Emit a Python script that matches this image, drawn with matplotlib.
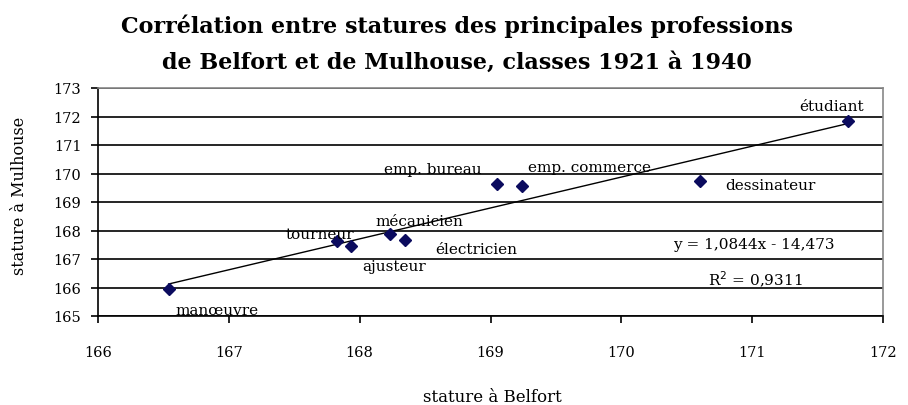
import numpy as np
import matplotlib
matplotlib.use("Agg")
import matplotlib.pyplot as plt

# Data
professions = ["manœuvre", "tourneur", "ajusteur", "mécanicien", "électricien",
               "emp. bureau", "emp. commerce", "dessinateur", "étudiant"]
stature_belfort = [166.54, 167.83, 167.93, 168.23, 168.35, 169.05, 169.24, 170.6, 171.73]
stature_mulhouse = [165.95, 167.63, 167.46, 167.88, 167.67, 169.63, 169.56, 169.72, 171.84]
trend_slope = 1.0844
trend_intercept = -14.473
r_squared = 0.9311

x_ticks = [166, 167, 168, 169, 170, 171, 172]
y_ticks = [165, 166, 167, 168, 169, 170, 171, 172, 173]

# label offsets in pixels (dx, dy) from each point, and alignment
label_offsets = {
    "manœuvre": (7, -21, "left"),
    "tourneur": (-18, 7, "center"),
    "ajusteur": (44, -20, "center"),
    "mécanicien": (30, 13, "center"),
    "électricien": (71, -9, "center"),
    "emp. bureau": (-64, 15, "center"),
    "emp. commerce": (68, 19, "center"),
    "dessinateur": (25, -4, "left"),
    "étudiant": (-16, 15, "center"),
}

W, H, DPI = 908, 406, 100
fig = plt.figure(figsize=(W / DPI, H / DPI), dpi=DPI, facecolor="white")
ax = fig.add_axes([98 / W, 1 - 317 / H, (883 - 98) / W, (317 - 89) / H])
serif = "DejaVu Serif"

ax.set_xlim(166, 172)
ax.set_ylim(165, 173)
ax.set_xticks(x_ticks)
ax.set_yticks(y_ticks)
ax.set_xticklabels([str(v) for v in x_ticks], fontfamily=serif, fontsize=10.5)
ax.set_yticklabels([str(v) for v in y_ticks], fontfamily=serif, fontsize=10.5)
ax.tick_params(axis="x", direction="out", length=5, width=1.2, pad=16)
ax.tick_params(axis="y", direction="out", length=5, width=1.2, pad=7)
ax.yaxis.grid(True, color="black", linewidth=1.2)
ax.set_axisbelow(True)
for s in ["left", "bottom"]:
    ax.spines[s].set_color("black")
    ax.spines[s].set_linewidth(1.2)
for s in ["top", "right"]:
    ax.spines[s].set_color("#888888")
    ax.spines[s].set_linewidth(1.2)

# trend line across data range
xs = np.array([min(stature_belfort), max(stature_belfort)])
ax.plot(xs, trend_slope * xs + trend_intercept, color="black", linewidth=1.0, zorder=2)

ax.plot(stature_belfort, stature_mulhouse, linestyle="none", marker="D",
        markersize=6, color="#0b0b5e", zorder=3)

for name, xv, yv in zip(professions, stature_belfort, stature_mulhouse):
    dx, dy, ha = label_offsets[name]
    ax.annotate(name, (xv, yv), xytext=(dx * 72 / DPI, dy * 72 / DPI),
                textcoords="offset points", ha=ha, va="center",
                fontfamily=serif, fontsize=11, zorder=4)

eq = f"y = {trend_slope:.4f}x - {abs(trend_intercept):.3f}".replace(".", ",")
fig.text(754 / W, 1 - 245 / H, eq, ha="center", va="center", fontfamily=serif, fontsize=11)
fig.text(755 / W, 1 - 280 / H, f"R$^2$ = {r_squared:.4f}".replace(".", ","),
         ha="center", va="center", fontfamily=serif, fontsize=11)

fig.text(492 / W, 1 - 398 / H, "stature à Belfort", ha="center", va="center",
         fontfamily=serif, fontsize=12)
fig.text(20 / W, 1 - 196 / H, "stature à Mulhouse", ha="center", va="center",
         rotation=90, fontfamily=serif, fontsize=11.5)

fig.text(457 / W, 1 - 26 / H, "Corrélation entre statures des principales professions",
         ha="center", va="center", fontfamily=serif, fontweight="bold", fontsize=16)
fig.text(457 / W, 1 - 63 / H, "de Belfort et de Mulhouse, classes 1921 à 1940",
         ha="center", va="center", fontfamily=serif, fontweight="bold", fontsize=16)

fig.savefig("out.png", dpi=DPI, facecolor="white")
